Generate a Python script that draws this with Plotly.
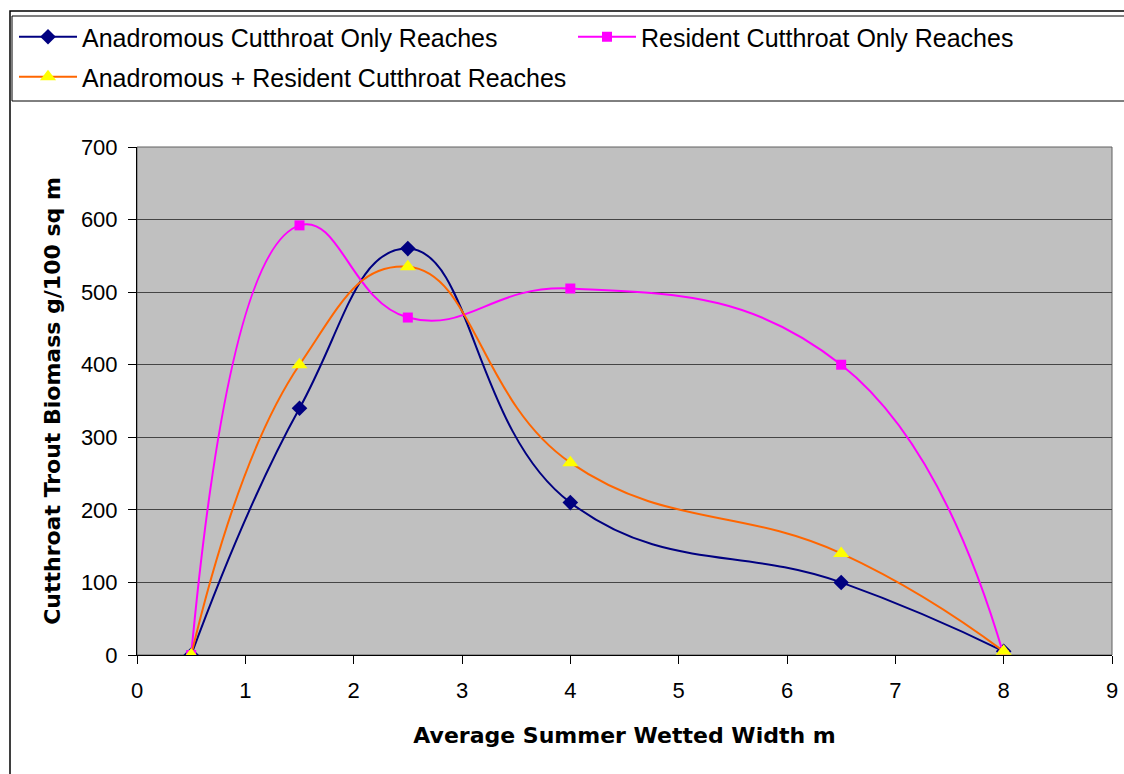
import plotly.graph_objects as go

# widths (m) and biomass (g/100 sq m)
width_m = [0.5, 1.5, 2.5, 4, 6.5, 8]
anadromous = [0, 340, 560, 210, 100, 5]
resident = [0, 592, 465, 505, 400, 0]
anad_resident = [0, 400, 535, 265, 140, 5]

x_ticks = [0, 1, 2, 3, 4, 5, 6, 7, 8, 9]
y_ticks = [0, 100, 200, 300, 400, 500, 600, 700]

FONT = "Liberation Sans, Arial, sans-serif"
TITLE_FONT = "DejaVu Sans, Verdana, sans-serif"

# plot area in pixels
W, H = 1124, 774
L, R, T, B = 137, 1112, 147, 655


def px(xp):
    return (xp - L) / (R - L)


def py(yp):
    return (B - yp) / (B - T)


SMOOTH = 1.3

fig = go.Figure()

fig.add_trace(go.Scatter(
    x=width_m, y=anadromous, name="Anadromous Cutthroat Only Reaches",
    mode="lines+markers", line=dict(color="#000080", width=2, shape="spline", smoothing=SMOOTH),
    marker=dict(symbol="diamond", size=12, color="#000080"),
    legend="legend",
))
fig.add_trace(go.Scatter(
    x=width_m, y=resident, name="Resident Cutthroat Only Reaches",
    mode="lines+markers", line=dict(color="#FF00FF", width=2, shape="spline", smoothing=SMOOTH),
    marker=dict(symbol="square", size=10, color="#FF00FF"),
    legend="legend2",
))
fig.add_trace(go.Scatter(
    x=width_m, y=anad_resident, name="Anadromous + Resident Cutthroat Reaches",
    mode="lines+markers", line=dict(color="#FF6600", width=2, shape="spline", smoothing=SMOOTH),
    marker=dict(symbol="triangle-up", size=14, color="#FFFF00"),
    legend="legend3",
))

legend_common = dict(
    orientation="h", xref="container", yref="container", xanchor="left", yanchor="middle",
    font=dict(family=FONT, size=25, color="black"), bgcolor="rgba(0,0,0,0)",
    itemwidth=58,
)

fig.update_layout(
    width=W, height=H,
    margin=dict(l=L, r=W - R, t=T, b=H - B, autoexpand=False),
    paper_bgcolor="white", plot_bgcolor="#C0C0C0",
    font=dict(family=FONT, size=22, color="black"),
    showlegend=True,
    legend=dict(legend_common, x=14 / W, y=1 - 37 / H),
    legend2=dict(legend_common, x=573 / W, y=1 - 37 / H),
    legend3=dict(legend_common, x=14 / W, y=1 - 77 / H),
    xaxis=dict(
        range=[0, 9], tickvals=x_ticks, showgrid=False, zeroline=False, automargin=False,
        showline=True, linecolor="black", linewidth=1,
        ticks="outside", ticklen=8, tickcolor="black", ticklabelstandoff=8,
        tickfont=dict(size=22),
        title=dict(text="<b>Average Summer Wetted Width m</b>",
                   font=dict(family=TITLE_FONT, size=22), standoff=25),
    ),
    yaxis=dict(
        range=[0, 700], tickvals=y_ticks, showgrid=True, gridcolor="#454545", gridwidth=1,
        zeroline=False, showline=True, linecolor="black", linewidth=1, automargin=False,
        ticks="outside", ticklen=8, tickcolor="black", ticklabelstandoff=6,
        tickfont=dict(size=22),
        title=dict(text="<b>Cutthroat Trout Biomass g/100 sq m</b>",
                   font=dict(family=TITLE_FONT, size=22), standoff=14),
    ),
    shapes=[
        # outer chart border
        dict(type="rect", xref="paper", yref="paper", x0=px(10), x1=px(1130), y0=py(11), y1=py(780),
             line=dict(color="black", width=1.5), layer="below"),
        # legend box
        dict(type="rect", xref="paper", yref="paper", x0=px(12), x1=px(1130), y0=py(16), y1=py(101),
             line=dict(color="black", width=1), layer="below"),
        # plot area border
        dict(type="rect", xref="paper", yref="paper", x0=0, x1=1, y0=0, y1=1,
             line=dict(color="#606060", width=1), layer="below"),
    ],
)

fig.write_html("out.html", config={"displayModeBar": False},
               post_script="document.body.style.margin='0';")
